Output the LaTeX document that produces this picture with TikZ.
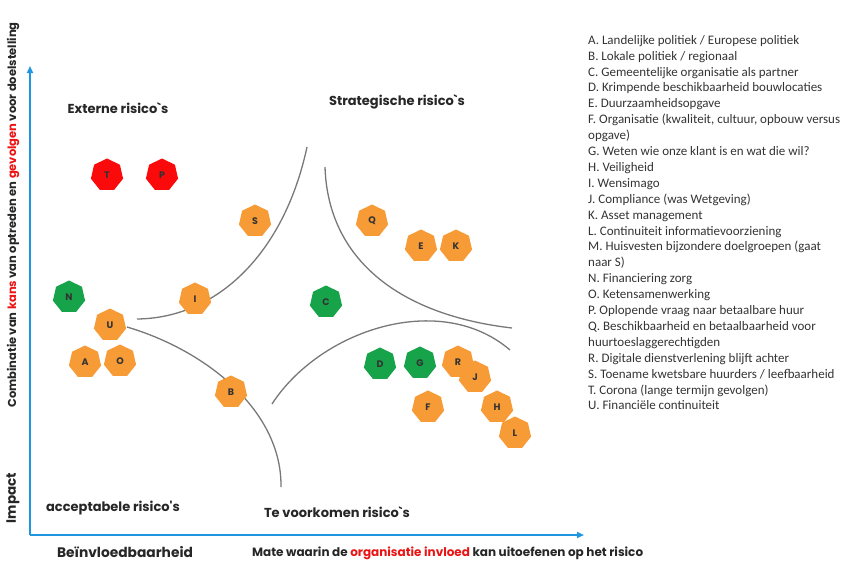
\documentclass[tikz,border=0pt]{standalone}
\usepackage{fontspec}
\setmainfont{Carlito}
\newfontfamily\labfont{Poppins}
\usetikzlibrary{shapes.geometric,arrows.meta}
\definecolor{axisblue}{RGB}{30,150,225}
\definecolor{hexred}{RGB}{250,10,10}
\definecolor{hexorange}{RGB}{247,155,55}
\definecolor{hexgreen}{RGB}{22,163,74}
\definecolor{curvegray}{RGB}{120,120,120}
\definecolor{redtxt}{RGB}{235,20,20}
\tikzset{
  hepta/.style={regular polygon,regular polygon sides=7,minimum size=33pt,inner sep=0pt,draw=none,
    font=\labfont\bfseries\fontsize{9.5}{10}\selectfont,text=black!80},
  rsk/.style={hepta,fill=hexred},
  ork/.style={hepta,fill=hexorange},
  grk/.style={hepta,fill=hexgreen},
  zone/.style={font=\labfont\bfseries\fontsize{13}{15}\selectfont,text=black!85},
  axislbl/.style={font=\labfont\bfseries\fontsize{12}{14}\selectfont,text=black!85},
  curve/.style={draw=curvegray,line width=1.3pt},
  axisline/.style={draw=axisblue,line width=1.8pt},
  legend/.style={font=\fontsize{13}{15.9}\selectfont,text=black!80,align=left,anchor=north west,inner sep=0pt}
}
\begin{document}
\begin{tikzpicture}[x=1pt,y=-1pt]
\useasboundingbox (0,0) rectangle (844,562);
% axes
\coordinate (origin) at (30,535);
\coordinate (ytip) at (30,66);
\coordinate (xtip) at (584,535);
\draw[axisline,-{Triangle[length=7pt,width=6pt]}] (origin) -- (ytip);
\draw[axisline,-{Triangle[length=7pt,width=6pt]}] (origin) -- (xtip);
% curves
\coordinate (c1a) at (137,319); \coordinate (c1b) at (307,147);
\coordinate (c2a) at (325,167); \coordinate (c2b) at (512,328);
\coordinate (c3a) at (272,404); \coordinate (c3b) at (510,350);
\coordinate (c4a) at (127,327); \coordinate (c4b) at (281,487);
\draw[curve] (c1a) .. controls (220,318) and (285,250) .. (c1b);
\draw[curve] (c2a) .. controls (328,260) and (400,315) .. (c2b);
\draw[curve] (c3a) .. controls (320,330) and (440,290) .. (c3b);
\draw[curve] (c4a) .. controls (205,350) and (282,410) .. (c4b);
% zone labels
\node[zone] (ext) at (118,108) {Externe risico`s};
\node[zone] (str) at (397,102) {Strategische risico`s};
\node[zone] (acc) at (113,508) {acceptabele risico's};
\node[zone] (tev) at (337,512) {Te voorkomen risico`s};
% axis labels
\node[font=\labfont\bfseries\fontsize{13.8}{15}\selectfont,text=black!85] (bein) at (125,552) {Beïnvloedbaarheid};
\node[axislbl,anchor=west,inner sep=0pt] (mate) at (252,553) {Mate waarin de \textcolor{redtxt}{organisatie invloed} kan uitoefenen op het risico};
\node[font=\labfont\bfseries\fontsize{13.5}{15}\selectfont,text=black!85,rotate=90] (imp) at (13,498) {Impact};
\node[axislbl,font=\labfont\bfseries\fontsize{11.5}{13}\selectfont,rotate=90] (comb) at (13,215) {Combinatie van \textcolor{redtxt}{kans} van optreden en \textcolor{redtxt}{gevolgen} voor doelstelling};
% risks
\node[rsk] (T) at (107,175) {T};
\node[rsk] (P) at (162,175) {P};
\node[ork] (S) at (255,221) {S};
\node[grk] (N) at (69,297) {N};
\node[ork] (I) at (195,299) {I};
\node[ork] (U) at (110,325) {U};
\node[ork] (A) at (85,362) {A};
\node[ork] (O) at (120,361) {O};
\node[ork] (B) at (231,392) {B};
\node[grk] (C) at (326,302) {C};
\node[ork] (Q) at (372,221) {Q};
\node[ork] (E) at (421,246) {E};
\node[ork] (K) at (456,246) {K};
\node[grk] (D) at (380,364) {D};
\node[grk] (G) at (420,363) {G};
\node[ork] (R) at (458,362) {R};
\node[ork] (J) at (475,377) {J};
\node[ork] (F) at (428,407) {F};
\node[ork] (H) at (497,407) {H};
\node[ork] (L) at (515,433) {L};
% legend
\node[legend] (leg) at (588,35) {A. Landelijke politiek / Europese politiek\\
B. Lokale politiek / regionaal\\
C. Gemeentelijke organisatie als partner\\
D. Krimpende beschikbaarheid bouwlocaties\\
E. Duurzaamheidsopgave\\
F. Organisatie (kwaliteit, cultuur, opbouw versus\\
opgave)\\
G. Weten wie onze klant is en wat die wil?\\
H. Veiligheid\\
I. Wensimago\\
J. Compliance (was Wetgeving)\\
K. Asset management\\
L. Continuiteit informatievoorziening\\
M. Huisvesten bijzondere doelgroepen (gaat\\
naar S)\\
N. Financiering zorg\\
O. Ketensamenwerking\\
P. Oplopende vraag naar betaalbare huur\\
Q. Beschikbaarheid en betaalbaarheid voor\\
huurtoeslaggerechtigden\\
R. Digitale dienstverlening blijft achter\\
S. Toename kwetsbare huurders / leefbaarheid\\
T. Corona (lange termijn gevolgen)\\
U. Financiële continuiteit};
\end{tikzpicture}
\end{document}
